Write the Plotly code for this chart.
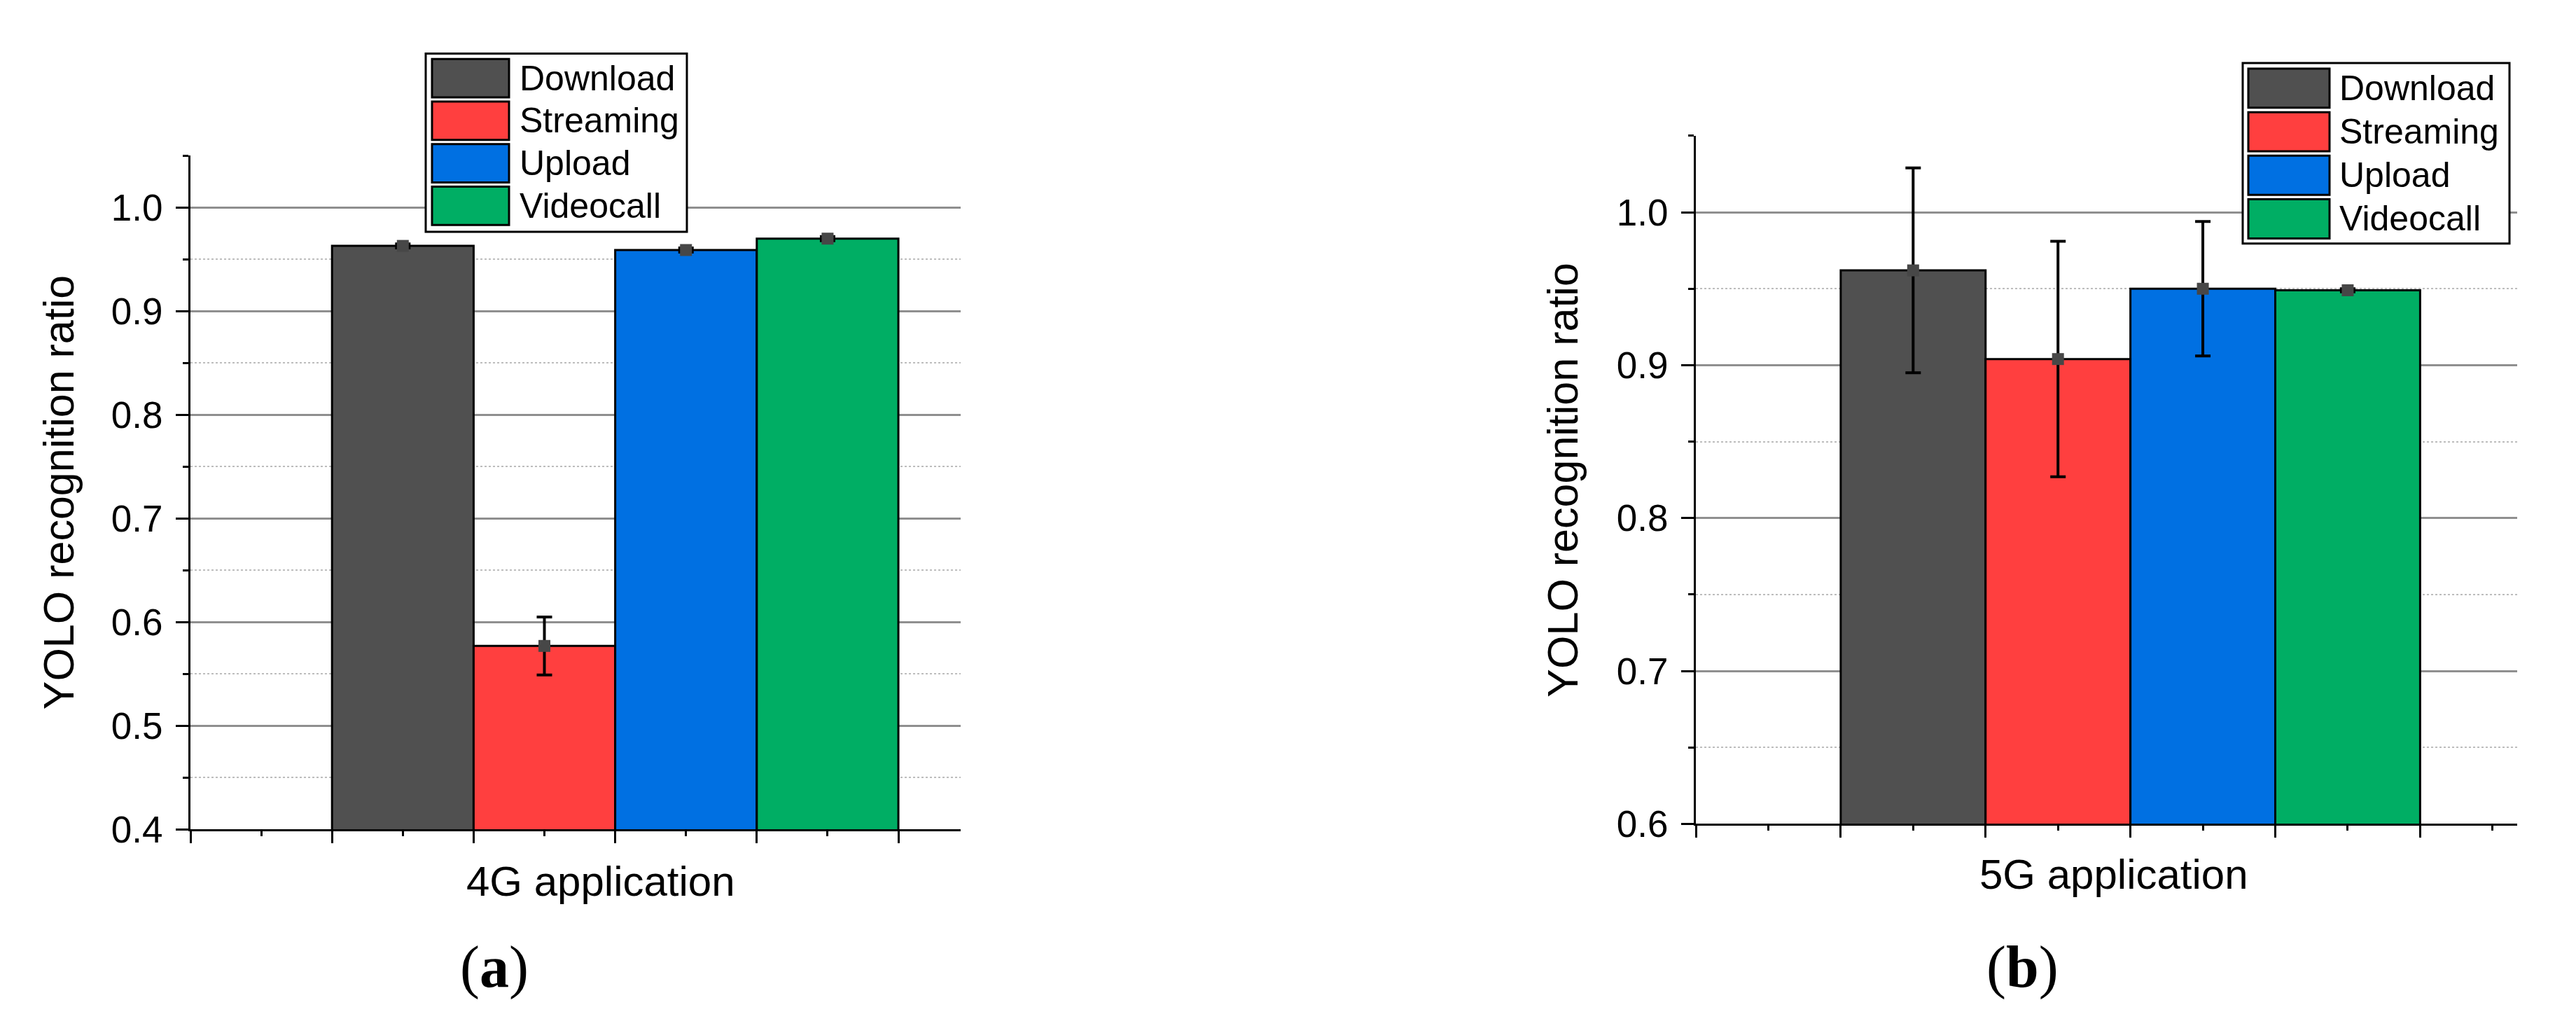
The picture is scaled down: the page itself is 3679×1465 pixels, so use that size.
import plotly.graph_objects as go

# data
series = ["Download", "Streaming", "Upload", "Videocall"]
colors = ["#505050", "#FF3F3F", "#0070E2", "#00AE64"]
ratio_4g = [0.963, 0.577, 0.959, 0.970]
err_4g = [0.002, 0.028, 0.002, 0.002]
ratio_5g = [0.962, 0.904, 0.950, 0.949]
err_5g = [0.067, 0.077, 0.044, 0.001]
y_ticks_4g = [0.4, 0.5, 0.6, 0.7, 0.8, 0.9, 1.0]
y_ticks_5g = [0.6, 0.7, 0.8, 0.9, 1.0]

W, H = 3679, 1465
FONT = "Arial, Liberation Sans, sans-serif"


def px(x):
    return x / W


def py(y):
    return 1 - y / H


fig = go.Figure()

panels = [
    dict(vals=ratio_4g, errs=err_4g, xa="x", ya="y"),
    dict(vals=ratio_5g, errs=err_5g, xa="x2", ya="y2"),
]
for p in panels:
    pos = [i + 1.5 for i in range(len(series))]
    for i, name in enumerate(series):
        fig.add_trace(go.Bar(
            x=[pos[i]], y=[p["vals"][i]], width=1, name=name,
            marker=dict(color=colors[i], line=dict(color="black", width=3)),
            showlegend=False, xaxis=p["xa"], yaxis=p["ya"]))
    fig.add_trace(go.Scatter(
        x=pos, y=p["vals"], mode="markers",
        marker=dict(symbol="square", size=17, color="#474747"),
        error_y=dict(type="data", array=p["errs"], color="black",
                     thickness=4, width=11),
        showlegend=False, xaxis=p["xa"], yaxis=p["ya"]))


def xaxis_style(dom, rng):
    return dict(domain=dom, range=rng, tick0=0, dtick=1, showticklabels=False,
                ticks="outside", ticklen=17, tickwidth=3, tickcolor="black",
                showline=True, linecolor="black", linewidth=3,
                showgrid=False, zeroline=False,
                minor=dict(dtick=0.5, ticks="outside", ticklen=7,
                           tickwidth=3, tickcolor="black"))


def yaxis_style(dom, rng, ticks, anchor):
    return dict(domain=dom, range=rng, anchor=anchor, tickvals=ticks,
                ticktext=[f"{t:.1f}" for t in ticks],
                ticks="outside", ticklen=18, tickwidth=3, tickcolor="black",
                ticklabelstandoff=8,
                tickfont=dict(family=FONT, size=53, color="black"),
                showline=True, linecolor="black", linewidth=3,
                showgrid=True, gridcolor="#8f8f8f", gridwidth=2.5,
                zeroline=False,
                minor=dict(dtick=0.05, tick0=0, ticks="outside", ticklen=8,
                           tickwidth=3, tickcolor="black", showgrid=True,
                           gridcolor="#bdbdbd", gridwidth=2, griddash="dot"))


fig.update_layout(
    width=W, height=H, margin=dict(l=0, r=0, t=0, b=0),
    paper_bgcolor="white", plot_bgcolor="white", barmode="overlay",
    xaxis=xaxis_style([px(272), px(1372)], [0, 5.44]),
    yaxis=yaxis_style([py(1209), py(227)], [0.4, 1.05], y_ticks_4g, "x"),
    xaxis2=xaxis_style([px(2422), px(3595)], [0, 5.67]),
    yaxis2=yaxis_style([py(1201), py(198)], [0.6, 1.05], y_ticks_5g, "x2"),
)
fig.layout.xaxis2.anchor = "y2"


def add_text(text, x, y, size, angle=0, family=FONT, anchor="center"):
    fig.add_annotation(text=text, x=px(x), y=py(y), xref="paper", yref="paper",
                       showarrow=False, textangle=angle, xanchor=anchor,
                       yanchor="middle",
                       font=dict(family=family, size=size, color="black"))


add_text("YOLO recognition ratio", 84, 718, 61, angle=-90)
add_text("YOLO recognition ratio", 2232, 700, 61, angle=-90)
add_text("4G application", 858, 1285, 60)
add_text("5G application", 3019, 1275, 60)
serif = "Times New Roman, Liberation Serif, serif"
add_text("(<b>a</b>)", 706, 1410, 84, family=serif)
add_text("(<b>b</b>)", 2888, 1410, 84, family=serif)


def draw_legend(box, sw_x, top, pitch, sw_h, text_x):
    fig.add_shape(type="rect", xref="paper", yref="paper",
                  x0=px(box[0]), x1=px(box[2]), y0=py(box[3]), y1=py(box[1]),
                  fillcolor="white", line=dict(color="black", width=3))
    for i, name in enumerate(series):
        y0 = top + i * pitch
        fig.add_shape(type="rect", xref="paper", yref="paper",
                      x0=px(sw_x[0]), x1=px(sw_x[1]), y0=py(y0 + sw_h), y1=py(y0),
                      fillcolor=colors[i], line=dict(color="black", width=3))
        add_text(name, text_x, y0 + sw_h / 2, 50, anchor="left")


draw_legend((608, 78, 981, 338), (617, 727), 86, 62, 56, 740)
draw_legend((3203, 92, 3584, 355), (3211, 3327), 100, 63.5, 57, 3339)

fig.write_html("out.html", config={"displayModeBar": False},
               post_script="document.body.style.margin='0';document.body.style.overflow='hidden';")
